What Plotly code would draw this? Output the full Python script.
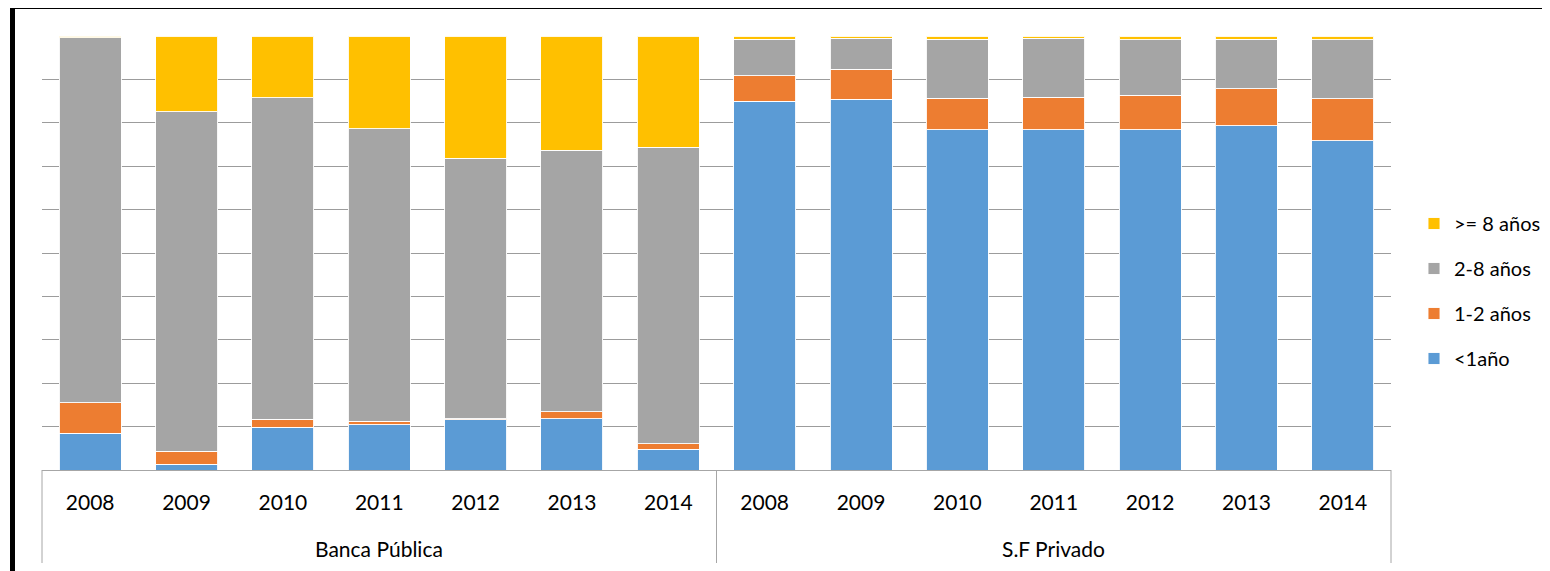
import plotly.graph_objects as go

groups = ["Banca Pública"] * 7 + ["S.F Privado"] * 7
years = ["2008", "2009", "2010", "2011", "2012", "2013", "2014"] * 2
group_names = ["Banca Pública", "S.F Privado"]

menos_1 = [8.5, 1.3, 9.9, 10.4, 11.6, 11.8, 4.8,
           85.0, 85.4, 78.4, 78.4, 78.4, 79.3, 75.9]
de_1_2 = [7.0, 3.0, 1.8, 0.8, 0.2, 1.6, 1.3,
          5.8, 6.9, 7.3, 7.5, 8.0, 8.5, 9.7]
de_2_8 = [84.1, 78.2, 74.1, 67.4, 60.0, 60.3, 68.3,
          8.4, 7.2, 13.6, 13.6, 12.7, 11.5, 13.5]
mas_8 = [0.4, 17.5, 14.2, 21.4, 28.2, 26.3, 25.6,
         0.8, 0.5, 0.7, 0.5, 0.9, 0.7, 0.9]

series = [
    ("<1año", menos_1, "#5B9BD5", 4),
    ("1-2 años", de_1_2, "#ED7D31", 3),
    ("2-8 años", de_2_8, "#A5A5A5", 2),
    (">= 8 años", mas_8, "#FFC000", 1),
]

cats = [g + " " + y for g, y in zip(groups, years)]

FONT = "Lato, 'Open Sans', sans-serif"

fig = go.Figure()
for name, vals, color, rank in series:
    fig.add_trace(go.Bar(
        x=cats, y=vals, name=name, legendgroup=name, legendrank=rank,
        marker=dict(color=color, line=dict(color="rgba(255,255,255,0.9)", width=1)),
    ))

# page offset of the figure inside the html body
OFF = 8
W, H = 1550 - OFF, 571 - OFF
L, R, T, B = 42 - OFF, 159, 36 - OFF, 101
pw, ph = W - L - R, H - T - B


def px_x(x):
    return (x - OFF - L) / pw


def px_y(y):
    return (H - B - (y - OFF)) / ph


shapes = [
    dict(type="rect", xref="paper", yref="paper",
         x0=px_x(12.5), x1=px_x(1570), y0=px_y(600), y1=px_y(6.5),
         line=dict(color="black", width=5), fillcolor="rgba(0,0,0,0)", layer="above"),
]
for xp in [0, 0.5, 1]:
    shapes.append(dict(type="line", xref="paper", yref="paper",
                       x0=xp, x1=xp, y0=0, y1=px_y(563),
                       line=dict(color="#A6A6A6", width=1)))

annotations = []
for gname in group_names:
    idx = [i for i, g in enumerate(groups) if g == gname]
    mid = cats[idx[len(idx) // 2]]
    annotations.append(dict(
        x=mid, xref="x", y=px_y(548), yref="paper", yanchor="middle",
        text=gname, showarrow=False,
        font=dict(size=21, family=FONT, color="black"),
    ))

fig.update_layout(
    width=W, height=H,
    margin=dict(l=L, r=R, t=T, b=B, autoexpand=False),
    barmode="stack", bargap=0.357,
    plot_bgcolor="white", paper_bgcolor="white",
    font=dict(family=FONT, color="black"),
    shapes=shapes,
    annotations=annotations,
    legend=dict(
        traceorder="grouped", tracegroupgap=16,
        x=px_x(1414), xanchor="left", y=px_y(291), yanchor="middle",
        font=dict(size=20, family=FONT, color="black"),
        itemclick=False,
    ),
    xaxis=dict(
        type="category", showline=True, linecolor="#A6A6A6", linewidth=1,
        tickmode="array", tickvals=cats, ticktext=years,
        tickfont=dict(size=21, family=FONT, color="black"),
        ticks="", showgrid=False, ticklabelstandoff=14,
    ),
    yaxis=dict(
        range=[0, 100], dtick=10, showticklabels=False,
        showgrid=True, gridcolor="#9C9C9C", gridwidth=1, zeroline=False, ticks="",
    ),
)

fig.write_html("out.html")
